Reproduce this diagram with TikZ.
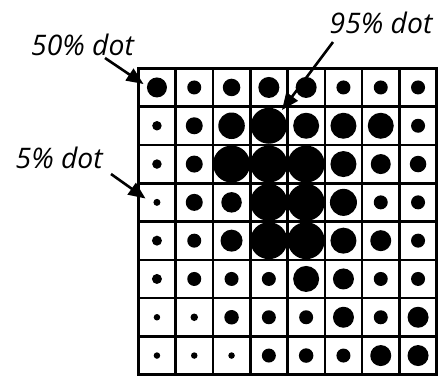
\documentclass[tikz,border=0pt]{standalone}
\usepackage{fontspec}
\setmainfont{Open Sans}
\usetikzlibrary{arrows.meta}
\tikzset{
  gridline/.style={line width=2.6pt, line cap=rect, black},
  dot/.style={circle, fill=black, inner sep=0pt, outer sep=0pt, draw=none},
  label/.style={inner sep=0pt, anchor=base west, font=\fontsize{28.3}{31}\selectfont\itshape},
  pointer/.style={line width=2.6pt, -{Triangle[length=17pt,width=14pt]}}
}
\begin{document}
\begin{tikzpicture}[x=1pt,y=-1pt]
\useasboundingbox (0,0) rectangle (440,376);
\fill[white] (0,0) rectangle (440,376);
% grid
\foreach \k in {0,...,8} {
  \draw[gridline] (138.3+37.3*\k,68.3) -- (138.3+37.3*\k,374.7);
  \draw[gridline] (138.3,68.3+38.3*\k) -- (436.7,68.3+38.3*\k);
}
% dots
\foreach \row [count=\j] in {
  {20,14,17.5,21,21,14,14,14},
  {9.5,17,26.5,36,26,26,26,14},
  {9.5,17,37,37,37,26,20,16.5},
  {7,17,20.5,37,37,27,14,14},
  {10,14,22,37,37,26,21,14},
  {10,14,14,14,26,21,14,14},
  {6.5,7.5,14.5,14,14,21,14,21},
  {6.5,6.5,6.5,14,14.5,14,21,21}} {
  \foreach \d [count=\i] in \row {
    \node[dot, minimum size=\d pt] (d\j-\i) at (138.3+37.3*\i-18.65, 68.3+38.3*\j-19.15) {};
  }
}
% labels
\node[label] (t50) at (31,55) {50\% dot};
\node[label] (t95) at (329.5,33.5) {95\% dot};
\node[label] (t5) at (15.5,168) {5\% dot};
% arrows
\coordinate (a50s) at (105,58);
\coordinate (a50e) at (143.5,84);
\coordinate (a95s) at (333,42);
\coordinate (a95e) at (282,110);
\coordinate (a5s) at (111,174);
\coordinate (a5e) at (145.5,198.5);
\draw[pointer] (a50s) -- (a50e);
\draw[pointer] (a95s) -- (a95e);
\draw[pointer] (a5s) -- (a5e);
\end{tikzpicture}
\end{document}
